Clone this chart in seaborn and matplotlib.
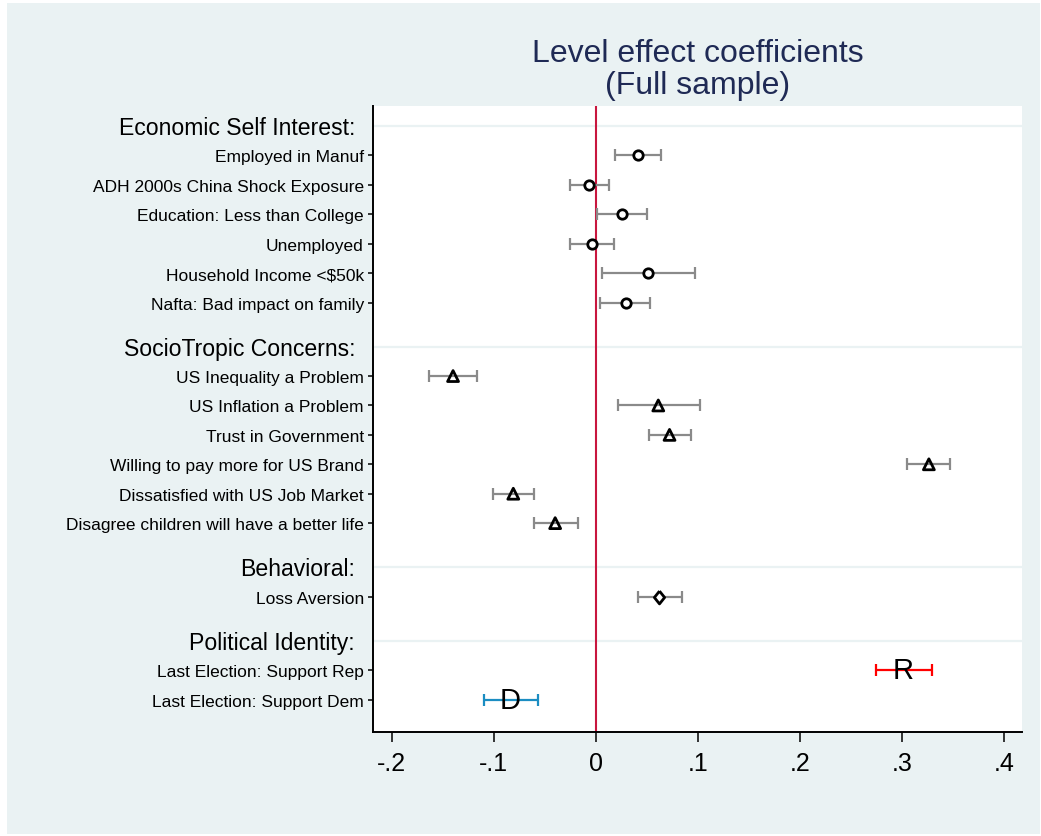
import numpy as np
import pandas as pd
import matplotlib
matplotlib.use("Agg")
import matplotlib.pyplot as plt
import matplotlib.transforms as mtransforms
from matplotlib.patches import Rectangle
import seaborn as sns

# ---- data -------------------------------------------------------------
group_titles = ["Economic Self Interest:", "SocioTropic Concerns:",
                "Behavioral:", "Political Identity:"]

econ_labels = ["Employed in Manuf", "ADH 2000s China Shock Exposure",
               "Education: Less than College", "Unemployed",
               "Household Income <$50k", "Nafta: Bad impact on family"]
econ_coef = [0.041, -0.007, 0.025, -0.004, 0.051, 0.029]
econ_lo = [0.019, -0.025, 0.001, -0.025, 0.006, 0.004]
econ_hi = [0.064, 0.013, 0.050, 0.018, 0.097, 0.053]

socio_labels = ["US Inequality a Problem", "US Inflation a Problem",
                "Trust in Government", "Willing to pay more for US Brand",
                "Dissatisfied with US Job Market",
                "Disagree children will have a better life"]
socio_coef = [-0.140, 0.061, 0.072, 0.326, -0.081, -0.040]
socio_lo = [-0.164, 0.022, 0.052, 0.305, -0.101, -0.061]
socio_hi = [-0.117, 0.102, 0.093, 0.347, -0.061, -0.018]

behav_labels = ["Loss Aversion"]
behav_coef = [0.062]
behav_lo = [0.041]
behav_hi = [0.084]

polit_labels = ["Last Election: Support Rep", "Last Election: Support Dem"]
polit_coef = [0.301, -0.084]
polit_lo = [0.274, -0.110]
polit_hi = [0.329, -0.057]
polit_letters = ["R", "D"]

xtick_values = [-0.2, -0.1, 0.0, 0.1, 0.2, 0.3, 0.4]
xtick_labels = ["-.2", "-.1", "0", ".1", ".2", ".3", ".4"]

title_lines = ["Level effect coefficients", "(Full sample)"]

# ---- styling ----------------------------------------------------------
sns.set_theme(style="white")
plt.rcParams["font.family"] = ["Liberation Sans", "DejaVu Sans"]

BG = "#EAF2F3"
CI_GREY = "#8A8A8A"
ZERO_RED = "#C8163E"
TITLE_NAVY = "#1F2A55"
REP_RED = "#FF0000"
DEM_BLUE = "#1B8DC2"

W, H = 1041, 837
fig = plt.figure(figsize=(W / 100, H / 100), dpi=100, facecolor="white")
fig.patches.append(Rectangle((7 / W, 2 / H), (1040 - 7) / W, (833 - 2) / H,
                             transform=fig.transFigure, facecolor=BG,
                             edgecolor="none", zorder=-10))
ax = fig.add_axes([373 / W, 1 - 733 / H, (1022 - 373) / W, (733 - 107) / H])
ax.set_facecolor("white")

# ---- build the long table of rows with positions ------------------------
groups = [
    (econ_labels, econ_coef, econ_lo, econ_hi, "o"),
    (socio_labels, socio_coef, socio_lo, socio_hi, "^"),
    (behav_labels, behav_coef, behav_lo, behav_hi, "diamond"),
    (polit_labels, polit_coef, polit_lo, polit_hi, "letter"),
]

records = []
header_pos = []
pos = 0.0
for gi, (labels, coef, lo, hi, mk) in enumerate(groups):
    header_pos.append(pos)
    for j, lab in enumerate(labels):
        pos += 1.0
        records.append(dict(group=gi, label=lab, coef=coef[j], lo=lo[j],
                            hi=hi[j], y=pos, marker=mk, idx=j))
    pos += 1.5
df = pd.DataFrame(records)

# header separator lines
for hp in header_pos:
    ax.axhline(hp, color=BG, lw=1.6, zorder=0.5)

# zero reference line
ax.axvline(0, color=ZERO_RED, lw=1.5, zorder=1)

# confidence intervals
for _, r in df.iterrows():
    if r["marker"] == "letter":
        col = REP_RED if polit_letters[r["idx"]] == "R" else DEM_BLUE
    else:
        col = CI_GREY
    ax.errorbar(r["coef"], r["y"],
                xerr=[[r["coef"] - r["lo"]], [r["hi"] - r["coef"]]],
                fmt="none", ecolor=col, elinewidth=1.6, capsize=4.2,
                capthick=1.6, zorder=2)

# point markers
diamond = [(0, 1), (0.8, 0), (0, -1), (-0.8, 0), (0, 1)]
marker_specs = {"o": ("o", 46, "white"),
                "^": ("^", 62, "none"),
                "diamond": (diamond, 85, "white")}
for key, (mk, size, fc) in marker_specs.items():
    sub = df[df["marker"] == key]
    sns.scatterplot(data=sub, x="coef", y="y", marker=mk, s=size,
                    facecolor=fc, edgecolor="black", linewidth=2.0,
                    ax=ax, zorder=3, legend=False)

# letter markers for party support
sub = df[df["marker"] == "letter"]
for _, r in sub.iterrows():
    ax.text(r["coef"], r["y"], polit_letters[r["idx"]], ha="center",
            va="center", fontsize=21, color="black", zorder=4)

# ---- axes ---------------------------------------------------------------
ax.set_xlim(-0.2184, 0.4172)
ax.set_ylim(pos - 1.5 + 1.1, -0.68)
ax.set_xticks(xtick_values)
ax.set_xticklabels(xtick_labels, fontsize=18)
ax.set_yticks(df["y"].tolist())
ax.set_yticklabels(df["label"].tolist(), fontsize=12.5)
ax.tick_params(axis="x", direction="out", length=7.5, width=1.1, pad=6,
               bottom=True, colors="black")
ax.tick_params(axis="y", direction="out", length=3.6, width=1.1, pad=3,
               left=True, colors="black")
ax.set_xlabel("")
ax.set_ylabel("")
for side in ("top", "right"):
    ax.spines[side].set_visible(False)
for side in ("left", "bottom"):
    ax.spines[side].set_color("black")
    ax.spines[side].set_linewidth(1.4)

# group headers, right-aligned left of the axis
trans = mtransforms.blended_transform_factory(fig.transFigure, ax.transData)
for title, hp in zip(group_titles, header_pos):
    ax.text(355 / W, hp + 0.28, title, transform=trans, ha="right",
            va="baseline", fontsize=16.6, color="black", clip_on=False)

# title
cx = (373 + 1022) / 2 / W
fig.text(cx, 1 - 62 / H, title_lines[0], ha="center", va="baseline",
         fontsize=23, color=TITLE_NAVY)
fig.text(cx, 1 - 94 / H, title_lines[1], ha="center", va="baseline",
         fontsize=23, color=TITLE_NAVY)

fig.savefig("out.png", dpi=100, facecolor=fig.get_facecolor())
